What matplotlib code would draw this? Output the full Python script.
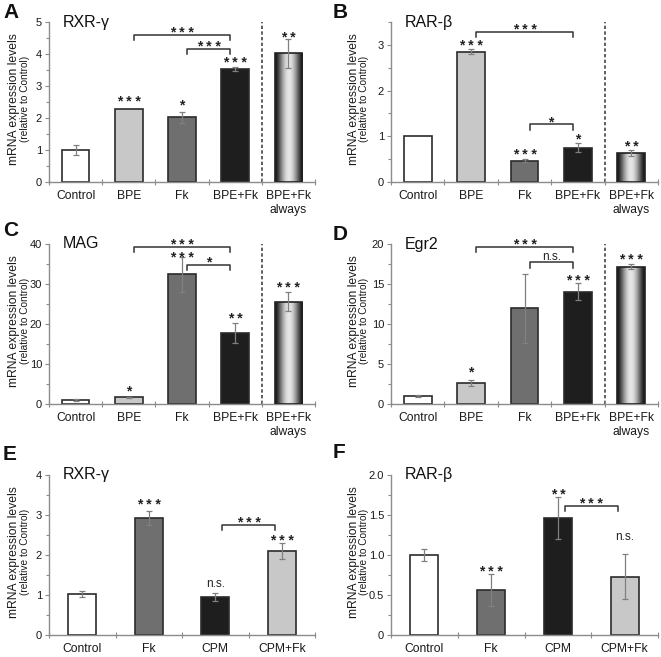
import matplotlib
matplotlib.use("Agg")
import matplotlib.pyplot as plt
import numpy as np
from matplotlib.ticker import MultipleLocator

plt.rcParams['font.family'] = ['Liberation Sans', 'DejaVu Sans']

# ---------------- data ----------------
cats_top = ['Control', 'BPE', 'Fk', 'BPE+Fk', 'BPE+Fk\nalways']
cats_bot = ['Control', 'Fk', 'CPM', 'CPM+Fk']

A_vals = [1.0, 2.28, 2.02, 3.53, 4.02]
A_err = [0.17, 0.0, 0.18, 0.07, 0.45]
B_vals = [1.0, 2.85, 0.47, 0.75, 0.63]
B_err = [0.0, 0.05, 0.04, 0.10, 0.07]
C_vals = [1.0, 1.7, 32.4, 17.8, 25.6]
C_err = [0.2, 0.1, 4.3, 2.5, 2.4]
D_vals = [1.0, 2.6, 11.95, 14.05, 17.15]
D_err = [0.08, 0.4, 4.3, 1.1, 0.3]
E_vals = [1.02, 2.93, 0.94, 2.10]
E_err = [0.08, 0.17, 0.10, 0.20]
F_vals = [1.0, 0.56, 1.46, 0.73]
F_err = [0.07, 0.20, 0.26, 0.28]

# significance labels above bars (label, y)
A_sig = [('', 0), ('***', 2.6), ('*', 2.5), ('***', 3.83), ('**', 4.6)]
B_sig = [('', 0), ('***', 3.05), ('***', 0.66), ('*', 1.0), ('**', 0.83)]
C_sig = [('', 0), ('*', 3.9), ('***', 37.2), ('**', 22.0), ('***', 29.9)]
D_sig = [('', 0), ('*', 4.3), ('', 0), ('***', 15.8), ('***', 18.4)]
E_sig = [('', 0), ('***', 3.33), ('n.s.', 1.27), ('***', 2.43)]
F_sig = [('', 0), ('***', 0.83), ('**', 1.79), ('n.s.', 1.23)]

# brackets: (left category, right category, y, label)
A_br = [(1, 3, 4.6, '***'), (2, 3, 4.15, '***')]
B_br = [(1, 3, 3.28, '***'), (2, 3, 1.26, '*')]
C_br = [(1, 3, 39.3, '***'), (2, 3, 34.8, '*')]
D_br = [(1, 3, 19.6, '***'), (2, 3, 17.7, 'n.s.')]
E_br = [(2, 3, 2.75, '***')]
F_br = [(2, 3, 1.61, '***')]

titles = ['RXR-γ', 'RAR-β', 'MAG', 'Egr2', 'RXR-γ', 'RAR-β']
letters = ['A', 'B', 'C', 'D', 'E', 'F']
ymaxes = [5, 3.5, 40, 20, 4, 2.0]
ymajor = [1, 1, 10, 5, 1, 0.5]
yminor = [0.5, 0.5, 5, 2.5, 0.5, 0.25]

WHITE, LIGHT, MID, DARK = '#ffffff', '#c8c8c8', '#6f6f70', '#1e1e1e'
top_colors = [WHITE, LIGHT, MID, DARK, 'grad']
bot_colors = [WHITE, MID, DARK, LIGHT]

# ---------------- figure ----------------
W, H = 661, 657
fig = plt.figure(figsize=(W / 100, H / 100), dpi=100)

lefts = [49, 391]
rows = [(22, 182), (244, 404), (475, 635)]
axw = [266, 267]

panels = [
    (A_vals, A_err, A_sig, A_br, cats_top, top_colors),
    (B_vals, B_err, B_sig, B_br, cats_top, top_colors),
    (C_vals, C_err, C_sig, C_br, cats_top, top_colors),
    (D_vals, D_err, D_sig, D_br, cats_top, top_colors),
    (E_vals, E_err, E_sig, E_br, cats_bot, bot_colors),
    (F_vals, F_err, F_sig, F_br, cats_bot, bot_colors),
]
letter_pos = [(3, 12), (333, 12), (3, 230), (333, 234), (3, 455), (333, 452)]
ylab_x = [(-0.132, -0.090), (-0.139, -0.101)]


def sig_text(ax, xx, yy, lab, clip=True):
    if lab.startswith('*'):
        ax.annotate(' '.join(lab), (xx, yy), xytext=(0, -2.3), textcoords='offset points',
                    ha='center', va='center', fontsize=10, color='#222222',
                    fontweight='bold', zorder=5, annotation_clip=False)
    else:
        ax.annotate(lab, (xx, yy), ha='center', va='center', fontsize=8.5,
                    color='#222222', zorder=5, annotation_clip=False)


SPINE = '#8c8c8c'
for i, (vals, errs, sigs, brs, cats, cols) in enumerate(panels):
    col = i % 2
    r = i // 2
    top_px, bot_px = rows[r]
    ax = fig.add_axes([lefts[col] / W, 1 - bot_px / H, axw[col] / W, (bot_px - top_px) / H])
    n = len(vals)
    x = np.arange(n)
    width = 0.52 if n == 5 else 0.42
    ymax = ymaxes[i]
    for k in range(n):
        c = cols[k]
        if c == 'grad':
            b = ax.bar(x[k], vals[k], width, color='none', edgecolor='#222222', lw=1.2, zorder=3)[0]
            prof = np.linspace(-1, 1, 200)
            g = 0.08 + 0.82 * np.cos(prof * np.pi / 2) ** 1.5
            img = ax.imshow(g[None, :], cmap='gray', vmin=0, vmax=1, aspect='auto',
                            extent=(b.get_x(), b.get_x() + b.get_width(), 0, b.get_height()),
                            zorder=2, interpolation='bilinear')
            img.set_clip_path(b)
        else:
            ax.bar(x[k], vals[k], width, color=c, edgecolor='#2b2b2b', lw=1.2, zorder=2)
        if errs[k] > 0:
            ax.errorbar(x[k], vals[k], yerr=errs[k], fmt='none', ecolor='#808080',
                        elinewidth=0.9, capsize=2.5, capthick=0.9, zorder=4)
    for k, (lab, yy) in enumerate(sigs):
        if lab:
            sig_text(ax, x[k], yy, lab)
    drop = 0.032 * ymax
    for (a, b2, yy, lab) in brs:
        xl, xr = x[a] + 0.1, x[b2] - 0.1
        ax.plot([xl, xl, xr, xr], [yy - drop, yy, yy, yy - drop], color='#333333', lw=1.1,
                zorder=5, clip_on=False)
        sig_text(ax, (xl + xr) / 2, yy + drop * 1.05, lab)
    if n == 5:
        ax.axvline(3.5, color='#444444', lw=1.2, ls=(0, (2, 1.4)), zorder=1)
    ax.set_xlim(-0.5, n - 0.5)
    ax.set_ylim(0, ymax)
    ax.set_xticks(np.arange(-0.5, n, 1.0))
    ax.set_xticklabels([])
    ax.set_xticks(x, minor=True)
    ax.set_xticklabels(cats, minor=True, fontsize=8.7, color='#1a1a1a')
    ax.tick_params(axis='x', which='major', direction='inout', length=4, color=SPINE, width=0.8)
    ax.tick_params(axis='x', which='minor', length=0, pad=6)
    ax.yaxis.set_major_locator(MultipleLocator(ymajor[i]))
    ax.yaxis.set_minor_locator(MultipleLocator(yminor[i]))
    ax.tick_params(axis='y', which='major', length=3, color=SPINE, width=0.8,
                   labelsize=8, labelcolor='#1a1a1a', pad=2)
    ax.tick_params(axis='y', which='minor', length=2, color=SPINE, width=0.8)
    if i == 1:
        ax.set_yticks([0, 1, 2, 3])
    if i == 5:
        ax.set_yticks([0, 0.5, 1.0, 1.5, 2.0])
        ax.set_yticklabels(['0', '0.5', '1.0', '1.5', '2.0'])
    for s in ['top', 'right']:
        ax.spines[s].set_visible(False)
    for s in ['left', 'bottom']:
        ax.spines[s].set_color(SPINE)
        ax.spines[s].set_linewidth(1.0)
    ax.text(0.053, 1.0, titles[i], transform=ax.transAxes, ha='left', va='center',
            fontsize=11.5, color='#111111')
    x1, x2 = ylab_x[col]
    ax.text(x1, 0.52, 'mRNA expression levels', transform=ax.transAxes, rotation=90,
            ha='center', va='center', fontsize=8.7, color='#1a1a1a')
    ax.text(x2, 0.52, '(relative to Control)', transform=ax.transAxes, rotation=90,
            ha='center', va='center', fontsize=7.3, color='#1a1a1a')
    lx, ly = letter_pos[i]
    fig.text(lx / W, 1 - ly / H, letters[i], ha='left', va='center', fontsize=15,
             fontweight='bold', color='#111111')

fig.savefig('out.png', dpi=100)
